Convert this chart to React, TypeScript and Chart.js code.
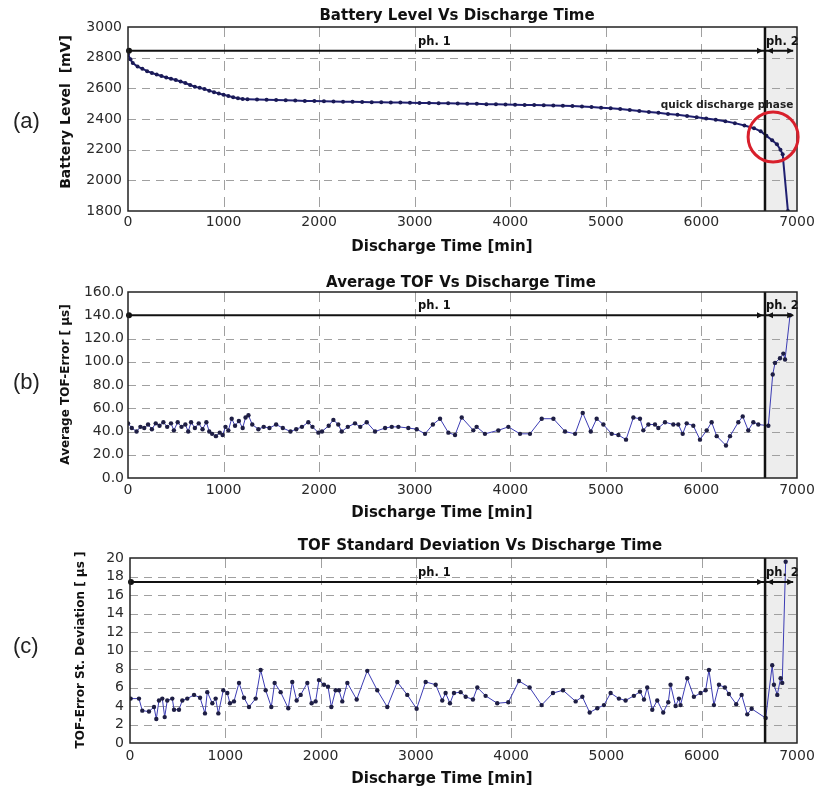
import React, { useEffect, useRef } from "react";
import { Chart, registerables } from "chart.js";

Chart.register(...registerables);

// ---------- data ----------
const xTickValues = [0, 1000, 2000, 3000, 4000, 5000, 6000, 7000];

const batteryTime = [
  0, 25, 50, 100, 150, 200, 250, 300, 350, 400, 450, 500, 550, 600, 650, 700, 750, 800, 850, 900,
  950, 1000, 1050, 1100, 1150, 1200, 1250, 1350, 1450, 1550, 1650, 1750, 1850, 1950, 2050, 2150,
  2250, 2350, 2450, 2550, 2650, 2750, 2850, 2950, 3050, 3150, 3250, 3350, 3450, 3550, 3650, 3750,
  3850, 3950, 4050, 4150, 4250, 4350, 4450, 4550, 4650, 4750, 4850, 4950, 5050, 5150, 5250, 5350,
  5450, 5550, 5650, 5750, 5850, 5950, 6050, 6150, 6250, 6350, 6450, 6550, 6620, 6680, 6740, 6790,
  6827, 6850, 6905,
];
const batteryLevel = [
  2820, 2790, 2765, 2742, 2728, 2712, 2700, 2690, 2680, 2671, 2662, 2654, 2645, 2635, 2622, 2610,
  2603, 2596, 2585, 2575, 2566, 2558, 2550, 2542, 2535, 2530, 2528, 2527, 2526, 2524, 2522, 2520,
  2518, 2517, 2515, 2514, 2513, 2512, 2511, 2510, 2509, 2508, 2507, 2506, 2505, 2504, 2503, 2502,
  2501, 2500, 2499, 2497, 2496, 2495, 2493, 2492, 2491, 2490, 2488, 2486, 2484, 2481, 2478, 2474,
  2470, 2465, 2458, 2452, 2446, 2440, 2433, 2427, 2420, 2412, 2404, 2395, 2385, 2373, 2358, 2340,
  2320, 2290, 2262, 2235, 2200, 2170, 1800,
];

const tofTime = [
  0, 40, 90, 130, 170, 210, 250, 290, 330, 370, 410, 450, 480, 520, 560, 600, 630, 660, 700, 740,
  780, 820, 850, 880, 920, 960, 990, 1020, 1050, 1085, 1120, 1160, 1200, 1230, 1260, 1300, 1364,
  1420, 1480, 1550, 1620, 1700, 1760, 1820, 1887, 1930, 1992, 2030, 2100, 2149, 2200, 2236, 2300,
  2375, 2430, 2498, 2585, 2690, 2760, 2829, 2933, 3021, 3108, 3190, 3265, 3352, 3422, 3492, 3613,
  3648, 3735, 3875, 3980, 4102, 4206, 4329, 4451, 4573, 4678, 4758, 4842, 4904, 4974, 5061, 5131,
  5211, 5288, 5357, 5392, 5445, 5514, 5549, 5619, 5706, 5758, 5804, 5846, 5915, 5985, 6055, 6107,
  6160, 6257, 6299, 6386, 6432, 6490, 6543, 6595, 6700, 6746, 6770, 6822, 6857, 6875, 6927,
];
const tofAverage = [
  47, 43, 40, 44, 43, 46, 42, 47, 45, 48, 44, 47, 41, 48, 44, 46, 40, 48, 43, 47,
  42, 48, 40, 38, 36, 39, 37, 44, 41, 51, 45, 49, 43, 52, 54, 46, 42,
  44, 43, 46, 43, 40, 42, 44, 48, 44, 39, 40, 45, 50, 46, 40, 44,
  47, 44, 48, 40, 43, 44, 44, 43, 42, 38, 46, 51, 39, 37, 52, 41,
  44, 38, 41, 44, 38, 38, 51, 51, 40, 38, 56, 40, 51, 46, 38, 37,
  33, 52, 51, 41, 46, 46, 43, 48, 46, 46, 38, 47, 45, 33, 41, 48,
  36, 28, 36, 48, 53, 41, 48, 46, 45, 89, 99, 103, 107, 102, 140,
];

const sdTime = [
  7, 94, 129, 199, 252, 276, 304, 339, 364, 391, 444, 462, 514, 549, 601, 672, 735, 787, 811, 864,
  899, 927, 979, 1021, 1049, 1091, 1144, 1196, 1249, 1319, 1371, 1424, 1483, 1518, 1581, 1661,
  1703, 1749, 1791, 1861, 1906, 1948, 1983, 2036, 2078, 2113, 2158, 2193, 2228, 2281, 2379, 2490,
  2595, 2700, 2805, 2910, 3008, 3103, 3208, 3277, 3312, 3358, 3400, 3470, 3523, 3599, 3645, 3732,
  3854, 3970, 4082, 4194, 4320, 4439, 4544, 4677, 4747, 4824, 4904, 4974, 5044, 5131, 5201, 5288,
  5352, 5394, 5428, 5481, 5533, 5596, 5649, 5673, 5726, 5761, 5778, 5848, 5918, 5988, 6041, 6076,
  6128, 6181, 6243, 6285, 6362, 6419, 6478, 6524, 6671, 6740, 6758, 6793, 6828, 6845, 6881,
];
const sdValue = [
  4.8, 4.8, 3.5, 3.4, 3.9, 2.6, 4.6, 4.8, 2.8, 4.6, 4.8, 3.6, 3.6, 4.6, 4.8, 5.2, 4.9, 3.2, 5.5, 4.3,
  4.8, 3.2, 5.7, 5.4, 4.3, 4.5, 6.5, 4.9, 3.9, 4.8, 7.9, 5.7, 3.9, 6.5, 5.5, 3.75,
  6.6, 4.6, 5.2, 6.5, 4.3, 4.5, 6.8, 6.3, 6.1, 3.9, 5.7, 5.7, 4.5, 6.5, 4.7, 7.8,
  5.7, 3.9, 6.6, 5.2, 3.7, 6.6, 6.3, 4.6, 5.4, 4.3, 5.4, 5.5, 5.0, 4.7, 6.0, 5.1,
  4.3, 4.4, 6.7, 6.0, 4.1, 5.4, 5.7, 4.5, 5.0, 3.3, 3.75, 4.1, 5.4, 4.8, 4.6, 5.1,
  5.55, 4.7, 6.0, 3.6, 4.6, 3.3, 4.4, 6.3, 4.0, 4.8, 4.1, 7.0, 5.0, 5.4, 5.7, 7.9,
  4.1, 6.3, 6.0, 5.3, 4.2, 5.2, 3.1, 3.7, 2.7, 8.4, 6.3, 5.2, 7.0, 6.5, 19.6,
];

const phaseBoundary = 6665;
const phaseEnd = 6960;
const phaseLevelA = 2845;
const phaseLevelB = 140;
const phaseLevelC = 17.4;
const circleCenter = { t: 6750, v: 2283 };
const noteAnchor = { t: 6268, v: 2470 };

// ---------- panels ----------
type Panel = {
  top: number; height: number; left: number; areaTop: number; areaBottom: number;
  yMin: number; yMax: number; yStep: number; decimals: number;
  yTickPad: number; xTickPad: number;
  title: string; titleX: number; titleBase: number;
  yTitle: string; yTitleSize: number; yTitleX: number; yTitleY: number;
  xTitleBase: number; label: string; labelBase: number; phaseY: number;
  times: number[]; values: number[]; battery: boolean;
};

const panels: Panel[] = [
  {
    top: 0, height: 262, left: 128, areaTop: 27, areaBottom: 211,
    yMin: 1800, yMax: 3000, yStep: 200, decimals: 0, yTickPad: 6, xTickPad: 3,
    title: "Battery Level Vs Discharge Time", titleX: 457, titleBase: 20,
    yTitle: "Battery Level  [mV]", yTitleSize: 14, yTitleX: 66, yTitleY: 112,
    xTitleBase: 250.5, label: "(a)", labelBase: 128, phaseY: phaseLevelA,
    times: batteryTime, values: batteryLevel, battery: true,
  },
  {
    top: 262, height: 263, left: 128, areaTop: 30, areaBottom: 216,
    yMin: 0, yMax: 160, yStep: 20, decimals: 1, yTickPad: 4, xTickPad: 4,
    title: "Average TOF Vs Discharge Time", titleX: 461, titleBase: 24.5,
    yTitle: "Average TOF-Error [ µs]", yTitleSize: 12, yTitleX: 66, yTitleY: 122.5,
    xTitleBase: 254.5, label: "(b)", labelBase: 126.5, phaseY: phaseLevelB,
    times: tofTime, values: tofAverage, battery: false,
  },
  {
    top: 525, height: 264, left: 130, areaTop: 33, areaBottom: 218,
    yMin: 0, yMax: 20, yStep: 2, decimals: 0, yTickPad: 6, xTickPad: 5,
    title: "TOF Standard Deviation Vs Discharge Time", titleX: 480, titleBase: 24.5,
    yTitle: "TOF-Error St. Deviation [ µs ]", yTitleSize: 12, yTitleX: 81, yTitleY: 125,
    xTitleBase: 257.5, label: "(c)", labelBase: 128, phaseY: phaseLevelC,
    times: sdTime, values: sdValue, battery: false,
  },
];

const W = 814;
const RIGHT = 797;
const FONT = '"DejaVu Sans", sans-serif';

function triangle(ctx: CanvasRenderingContext2D, tipX: number, y: number, dir: number) {
  ctx.beginPath();
  ctx.moveTo(tipX, y);
  ctx.lineTo(tipX - dir * 6, y - 3);
  ctx.lineTo(tipX - dir * 6, y + 3);
  ctx.closePath();
  ctx.fill();
}

function makePlugin(p: Panel) {
  return {
    id: "panelDeco",
    beforeDatasetsDraw(chart: any) {
      const { ctx, chartArea: a, scales } = chart;
      const x = scales.x;
      const y = scales.y;
      const xb = x.getPixelForValue(phaseBoundary);
      ctx.save();
      ctx.fillStyle = "#ededed";
      ctx.fillRect(xb, a.top, a.right - xb, a.bottom - a.top);
      ctx.strokeStyle = "#a0a0a0";
      ctx.lineWidth = 1;
      ctx.setLineDash([8, 6]);
      y.ticks.forEach((t: any) => {
        const py = Math.round(y.getPixelForValue(t.value)) + 0.5;
        if (py > a.top + 2 && py < a.bottom - 2) {
          ctx.beginPath();
          ctx.moveTo(a.left, py);
          ctx.lineTo(a.right, py);
          ctx.stroke();
        }
      });
      ctx.setLineDash([10, 7]);
      x.ticks.forEach((t: any) => {
        const px = Math.round(x.getPixelForValue(t.value)) + 0.5;
        if (px > a.left + 2 && px < a.right - 2) {
          ctx.beginPath();
          ctx.moveTo(px, a.top);
          ctx.lineTo(px, a.bottom);
          ctx.stroke();
        }
      });
      ctx.restore();
    },
    afterDatasetsDraw(chart: any) {
      const { ctx, chartArea: a, scales } = chart;
      const x = scales.x;
      const y = scales.y;
      const xb = x.getPixelForValue(phaseBoundary);
      const xe = x.getPixelForValue(phaseEnd);
      const x0 = x.getPixelForValue(0);
      const py = y.getPixelForValue(p.phaseY);
      ctx.save();
      ctx.strokeStyle = "#111";
      ctx.lineWidth = 2.5;
      ctx.beginPath();
      ctx.moveTo(xb, a.top);
      ctx.lineTo(xb, a.bottom);
      ctx.stroke();
      ctx.lineWidth = 2;
      ctx.beginPath();
      ctx.moveTo(x0, py);
      ctx.lineTo(xe, py);
      ctx.stroke();
      ctx.fillStyle = "#111";
      ctx.beginPath();
      ctx.arc(x0 + 1, py, 3, 0, Math.PI * 2);
      ctx.fill();
      triangle(ctx, xb - 2, py, 1);
      triangle(ctx, xb + 2, py, -1);
      triangle(ctx, xe, py, 1);
      ctx.font = `bold 11.5px ${FONT}`;
      ctx.textAlign = "left";
      ctx.textBaseline = "alphabetic";
      ctx.fillText("ph. 1", 418, py - 6);
      ctx.fillText("ph. 2", xb + 1, py - 6);
      ctx.strokeStyle = "#222";
      ctx.lineWidth = 1.5;
      ctx.strokeRect(a.left, a.top, a.right - a.left, a.bottom - a.top);
      if (p.battery) {
        ctx.strokeStyle = "#d8202c";
        ctx.lineWidth = 3;
        ctx.beginPath();
        ctx.arc(x.getPixelForValue(circleCenter.t), y.getPixelForValue(circleCenter.v), 25, 0, Math.PI * 2);
        ctx.stroke();
        ctx.fillStyle = "#222";
        ctx.font = `bold 10.5px ${FONT}`;
        ctx.textAlign = "center";
        ctx.fillText("quick discharge phase", x.getPixelForValue(noteAnchor.t), y.getPixelForValue(noteAnchor.v));
      }
      ctx.restore();
    },
    afterDraw(chart: any) {
      const { ctx } = chart;
      ctx.save();
      ctx.fillStyle = "#111";
      ctx.textBaseline = "alphabetic";
      ctx.textAlign = "center";
      ctx.font = `bold 15px ${FONT}`;
      ctx.fillText(p.title, p.titleX, p.titleBase);
      ctx.fillText("Discharge Time [min]", 442, p.xTitleBase);
      ctx.font = `22px "Liberation Sans", Arial, sans-serif`;
      ctx.textAlign = "left";
      ctx.fillStyle = "#222";
      ctx.fillText(p.label, 13, p.labelBase);
      ctx.translate(p.yTitleX, p.yTitleY);
      ctx.rotate(-Math.PI / 2);
      ctx.textAlign = "center";
      ctx.textBaseline = "middle";
      ctx.fillStyle = "#111";
      ctx.font = `bold ${p.yTitleSize}px ${FONT}`;
      ctx.fillText(p.yTitle, 0, 0);
      ctx.restore();
    },
  };
}

function buildChart(canvas: HTMLCanvasElement, p: Panel) {
  const points = p.times.map((t, i) => ({ x: t, y: p.values[i] }));
  return new Chart(canvas, {
    type: "line",
    data: {
      datasets: [
        {
          data: points,
          borderColor: p.battery ? "#1f1f70" : "#3c3cb4",
          borderWidth: p.battery ? 2 : 1,
          pointRadius: p.battery ? 2 : 2.2,
          pointBackgroundColor: p.battery ? "#1a1a55" : "#1e1e44",
          pointBorderWidth: 0,
          tension: 0,
        },
      ],
    },
    options: {
      responsive: false,
      maintainAspectRatio: false,
      animation: false,
      events: [],
      layout: { padding: { left: 0, top: p.areaTop, right: W - RIGHT, bottom: 0 } },
      plugins: { legend: { display: false }, tooltip: { enabled: false }, title: { display: false } },
      scales: {
        x: {
          type: "linear",
          min: 0,
          max: 7000,
          afterBuildTicks: (s: any) => {
            s.ticks = xTickValues.map((v) => ({ value: v }));
          },
          afterFit: (s: any) => {
            s.height = p.height - p.areaBottom;
            s.paddingLeft = 0;
            s.paddingRight = 0;
          },
          ticks: {
            autoSkip: false,
            maxRotation: 0,
            padding: p.xTickPad,
            color: "#2a2a2a",
            font: { family: FONT, size: 14 },
            callback: (v: any) => String(v),
          },
          grid: { display: false, drawTicks: false },
          border: { display: false },
        },
        y: {
          type: "linear",
          min: p.yMin,
          max: p.yMax,
          afterFit: (s: any) => {
            s.width = p.left;
            s.paddingTop = 0;
            s.paddingBottom = 0;
          },
          ticks: {
            stepSize: p.yStep,
            autoSkip: false,
            padding: p.yTickPad,
            color: "#2a2a2a",
            font: { family: FONT, size: 14 },
            callback: (v: any) => Number(v).toFixed(p.decimals),
          },
          grid: { display: false, drawTicks: false },
          border: { display: false },
        },
      },
    },
    plugins: [makePlugin(p) as any],
  } as any);
}

export default function App() {
  const refs = [useRef<HTMLCanvasElement>(null), useRef<HTMLCanvasElement>(null), useRef<HTMLCanvasElement>(null)];
  useEffect(() => {
    const charts = panels.map((p, i) => buildChart(refs[i].current as HTMLCanvasElement, p));
    return () => charts.forEach((c) => c.destroy());
  }, []);
  return (
    <div style={{ position: "absolute", left: 0, top: 0, width: W, height: 789, background: "#fff", overflow: "hidden" }}>
      {panels.map((p, i) => (
        <canvas
          key={i}
          ref={refs[i]}
          width={W}
          height={p.height}
          style={{ position: "absolute", left: 0, top: p.top, width: W, height: p.height, display: "block" }}
        />
      ))}
    </div>
  );
}
